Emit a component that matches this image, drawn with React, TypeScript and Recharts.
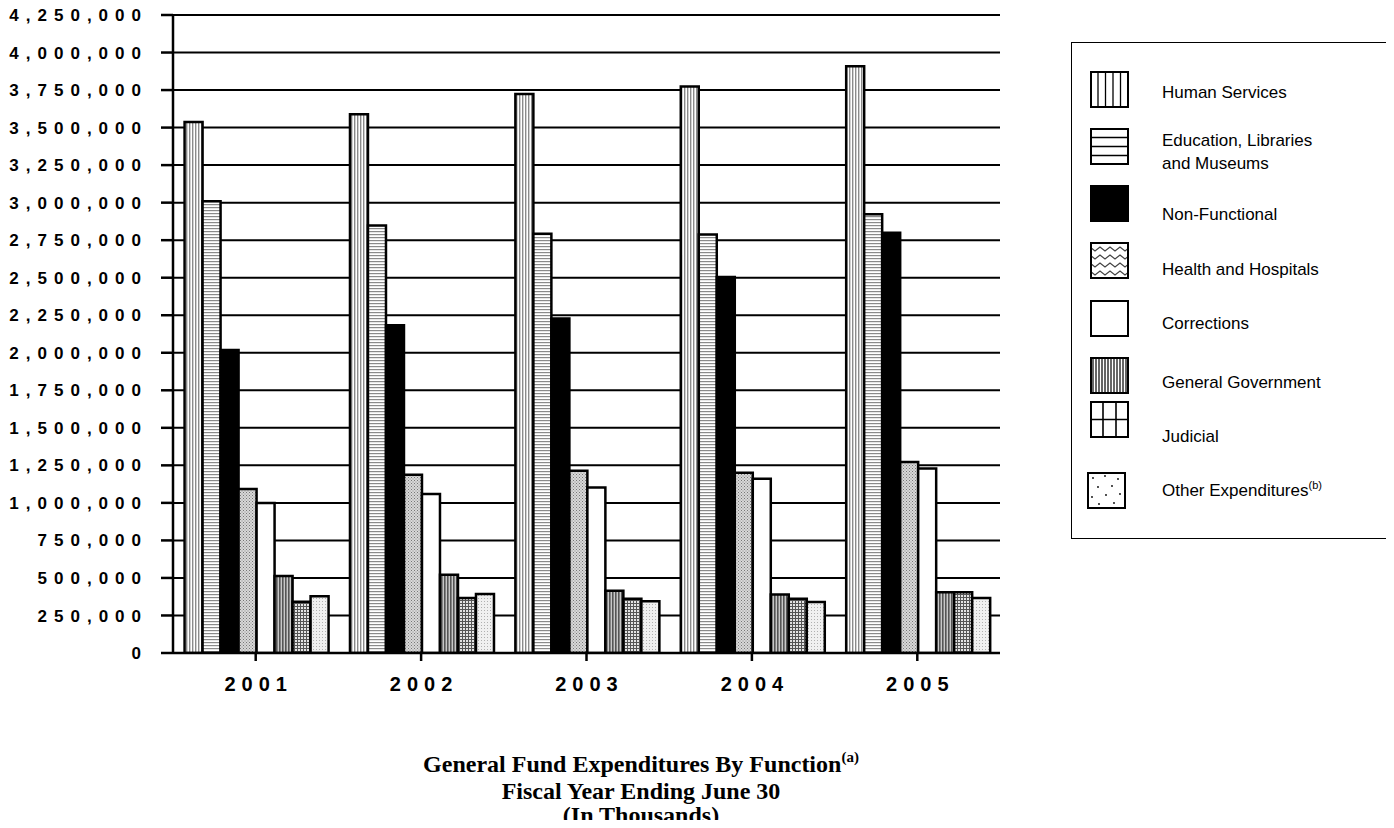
import React from 'react';
import { BarChart, Bar, XAxis, YAxis, CartesianGrid, Legend } from 'recharts';

const YEARS = ['2001', '2002', '2003', '2004', '2005'];
const HUMAN_SERVICES = [3537000, 3589000, 3724000, 3774000, 3908000];
const EDUCATION = [3010000, 2848000, 2792000, 2788000, 2923000];
const NON_FUNCTIONAL = [2019000, 2184000, 2229000, 2505000, 2799000];
const HEALTH = [1093000, 1188000, 1214000, 1200000, 1273000];
const CORRECTIONS = [1000000, 1059000, 1103000, 1160000, 1229000];
const GENERAL_GOV = [513000, 522000, 415000, 389000, 404000];
const JUDICIAL = [341000, 366000, 362000, 362000, 404000];
const OTHER = [378000, 393000, 344000, 340000, 367000];
const Y_TICKS = [
  0, 250000, 500000, 750000, 1000000, 1250000, 1500000, 1750000, 2000000,
  2250000, 2500000, 2750000, 3000000, 3250000, 3500000, 3750000, 4000000, 4250000,
];
const EDGE_TICKS = [0, 1, 2, 3, 4, 5];

const SERIES = [
  { key: 'hs', name: 'Human Services', fill: 'url(#p-hs)' },
  { key: 'edu', name: 'Education, Libraries and Museums', fill: 'url(#p-edu)' },
  { key: 'nf', name: 'Non-Functional', fill: '#000' },
  { key: 'hh', name: 'Health and Hospitals', fill: 'url(#p-hh)' },
  { key: 'corr', name: 'Corrections', fill: '#fff' },
  { key: 'gg', name: 'General Government', fill: 'url(#p-gg)' },
  { key: 'jud', name: 'Judicial', fill: 'url(#p-jud)' },
  { key: 'oth', name: 'Other Expenditures', fill: 'url(#p-oth)' },
];

const data = YEARS.map((year, i) => ({
  year,
  hs: HUMAN_SERVICES[i],
  edu: EDUCATION[i],
  nf: NON_FUNCTIONAL[i],
  hh: HEALTH[i],
  corr: CORRECTIONS[i],
  gg: GENERAL_GOV[i],
  jud: JUDICIAL[i],
  oth: OTHER[i],
}));

const sans = '"Liberation Sans", Arial, sans-serif';

function Swatch({ kind }: { kind: string }) {
  const w = 39;
  const h = 37;
  let inner: React.ReactNode = null;
  let bg = '#fff';
  if (kind === 'hs') {
    inner = [8, 15.5, 23, 30.5].map((x) => <line key={x} x1={x} y1={0} x2={x} y2={h} stroke="#000" strokeWidth={1.3} />);
  } else if (kind === 'edu') {
    inner = [9.5, 18.5, 27.5].map((y) => <line key={y} x1={0} y1={y} x2={w} y2={y} stroke="#000" strokeWidth={1.3} />);
  } else if (kind === 'nf') {
    bg = '#000';
  } else if (kind === 'hh') {
    inner = [5, 13, 21, 29].map((y) => (
      <polyline
        key={y}
        points={[0, 1, 2, 3, 4, 5, 6, 7, 8].map((k) => `${k * 5},${y + (k % 2 ? 4 : 0)}`).join(' ')}
        fill="none"
        stroke="#444"
        strokeWidth={1.2}
      />
    ));
  } else if (kind === 'gg') {
    inner = [3, 6, 9, 12, 15, 18, 21, 24, 27, 30, 33, 36].map((x) => (
      <line key={x} x1={x} y1={0} x2={x} y2={h} stroke="#333" strokeWidth={1.5} />
    ));
  } else if (kind === 'jud') {
    inner = (
      <g stroke="#000" strokeWidth={1.6}>
        <line x1={13} y1={0} x2={13} y2={h} />
        <line x1={26} y1={0} x2={26} y2={h} />
        <line x1={0} y1={18.5} x2={w} y2={18.5} />
      </g>
    );
  } else if (kind === 'oth') {
    const pts = [[6, 6], [18, 4], [31, 7], [11, 15], [25, 14], [5, 25], [19, 23], [33, 22], [12, 32], [27, 31]];
    inner = pts.map(([x, y], i) => <circle key={i} cx={x} cy={y} r={0.9} fill="#000" />);
  }
  return (
    <svg width={w} height={h} style={{ display: 'block' }}>
      <rect x={1} y={1} width={w - 2} height={h - 2} fill={bg} />
      {inner}
      <rect x={1} y={1} width={w - 2} height={h - 2} fill="none" stroke="#000" strokeWidth={2} />
    </svg>
  );
}

// legend rows follow the uneven spacing of the original
const ROW_TOPS = [28, 85, 142, 199, 257, 314, 358, 429];
const TEXT_TOPS = [38, 86, 160, 215, 269, 328, 382, 431];

function LegendBox() {
  return (
    <div
      style={{
        position: 'relative',
        width: 316,
        height: 495,
        border: '1px solid #000',
        background: '#fff',
        fontFamily: sans,
        fontSize: 17,
        color: '#000',
      }}
    >
      {SERIES.map((s, i) => (
        <React.Fragment key={s.key}>
          <div style={{ position: 'absolute', left: i === 7 ? 15 : 18, top: ROW_TOPS[i] }}>
            <Swatch kind={s.key} />
          </div>
          <div style={{ position: 'absolute', left: 90, top: TEXT_TOPS[i], lineHeight: '23px', width: 215 }}>
            {s.key === 'edu' ? (
              <>
                Education, Libraries
                <br />
                and Museums
              </>
            ) : s.key === 'oth' ? (
              <>
                Other Expenditures<sup style={{ fontSize: 11 }}>(b)</sup>
              </>
            ) : (
              s.name
            )}
          </div>
        </React.Fragment>
      ))}
    </div>
  );
}

export default function App() {
  return (
    <div style={{ position: 'relative', width: 1386, height: 820, marginTop: -8, marginLeft: -8 }}>
      <BarChart
        width={1386}
        height={708}
        data={data}
        margin={{ top: 15, right: 386, bottom: 53, left: 8 }}
        barCategoryGap="7%"
        barGap={0}
      >
        <defs>
          <pattern id="p-hs" width="3" height="4" patternUnits="userSpaceOnUse">
            <rect width="3" height="4" fill="#fff" />
            <rect x="0" width="1.4" height="4" fill="#8a8a8a" />
          </pattern>
          <pattern id="p-edu" width="4" height="3" patternUnits="userSpaceOnUse">
            <rect width="4" height="3" fill="#fff" />
            <rect y="0" width="4" height="1.2" fill="#8a8a8a" />
          </pattern>
          <pattern id="p-hh" width="3" height="3" patternUnits="userSpaceOnUse">
            <rect width="3" height="3" fill="#d8d8d8" />
            <rect x="0" y="0" width="1" height="1" fill="#777" />
            <rect x="1.5" y="1.5" width="1" height="1" fill="#888" />
          </pattern>
          <pattern id="p-gg" width="3" height="4" patternUnits="userSpaceOnUse">
            <rect width="3" height="4" fill="#c8c8c8" />
            <rect x="0" width="1.6" height="4" fill="#555" />
          </pattern>
          <pattern id="p-jud" width="3" height="3" patternUnits="userSpaceOnUse">
            <rect width="3" height="3" fill="#e4e4e4" />
            <rect x="0" width="1" height="3" fill="#555" />
            <rect y="0" width="3" height="1" fill="#555" />
          </pattern>
          <pattern id="p-oth" width="3" height="3" patternUnits="userSpaceOnUse">
            <rect width="3" height="3" fill="#f0f0f0" />
            <rect x="1" y="1" width="1" height="1" fill="#b0b0b0" />
          </pattern>
        </defs>
        <CartesianGrid vertical={false} stroke="#000" strokeWidth={2} yAxisId="y" xAxisId="cat" />
        <XAxis
          xAxisId="cat"
          dataKey="year"
          height={1}
          axisLine={{ stroke: '#000', strokeWidth: 2.5 }}
          tickLine={{ stroke: '#000', strokeWidth: 2.5 }}
          tickSize={8}
          tickMargin={16}
          tick={{ fill: '#000', fontSize: 20, fontWeight: 700, fontFamily: sans, letterSpacing: 6, dx: 3 }}
        />
        <XAxis
          xAxisId="edge"
          type="number"
          domain={[0, 5]}
          ticks={EDGE_TICKS}
          interval={0}
          allowDataOverflow
          height={1}
          axisLine={false}
          tick={false}
          tickLine={{ stroke: '#000', strokeWidth: 2.5 }}
          tickSize={8}
        />
        <YAxis
          yAxisId="y"
          width={165}
          domain={[0, 4250000]}
          ticks={Y_TICKS}
          interval={0}
          allowDataOverflow
          axisLine={{ stroke: '#000', strokeWidth: 2.5 }}
          tickLine={{ stroke: '#000', strokeWidth: 2.5 }}
          tickSize={12}
          tickMargin={13}
          tickFormatter={(v: number) => v.toLocaleString('en-US')}
          tick={{ fill: '#000', fontSize: 17, fontWeight: 700, fontFamily: sans, letterSpacing: 7 }}
        />
        <Legend
          layout="horizontal"
          verticalAlign="middle"
          align="center"
          wrapperStyle={{ position: 'absolute', left: 1071, top: 42, width: 318, height: 497 }}
          content={() => <LegendBox />}
        />
        {SERIES.map((s) => (
          <Bar
            key={s.key}
            dataKey={s.key}
            name={s.name}
            xAxisId="cat"
            yAxisId="y"
            fill={s.fill}
            stroke="#000"
            strokeWidth={2.5}
            isAnimationActive={false}
          />
        ))}
      </BarChart>
      <div
        style={{
          position: 'absolute',
          left: 241,
          top: 752,
          width: 800,
          textAlign: 'center',
          fontFamily: '"Liberation Serif", "Times New Roman", serif',
          fontWeight: 700,
          fontSize: 24,
          lineHeight: '24px',
          color: '#000',
        }}
      >
        General Fund Expenditures By Function
        <span style={{ fontSize: 15, position: 'relative', top: -10 }}>(a)</span>
        <br />
        Fiscal Year Ending June 30
        <br />
        (In Thousands)
      </div>
    </div>
  );
}
